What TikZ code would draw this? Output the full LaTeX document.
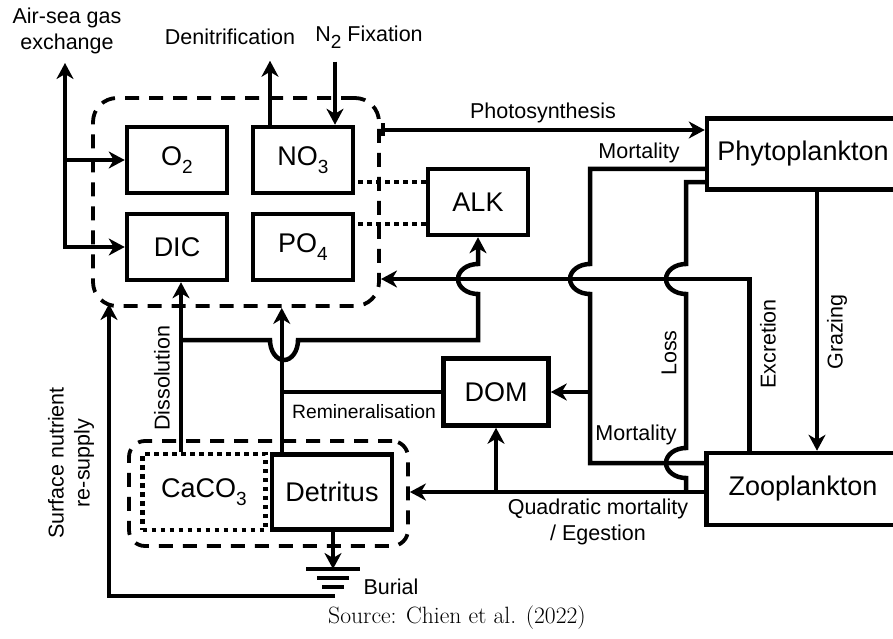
\documentclass[tikz,border=0pt]{standalone}
\usepackage{fontspec}
\newfontfamily\labelfont{Liberation Sans}
\usetikzlibrary{arrows.meta,positioning,calc}

\newcommand{\lowsub}[1]{\raisebox{-0.32em}{\fontsize{19}{19}\selectfont #1}}

\tikzset{
  pool/.style={draw, line width=4.5pt, inner sep=0pt, minimum width=100pt, minimum height=66pt,
    font=\labelfont\fontsize{27}{30}\selectfont},
  group/.style={draw, line width=3.8pt, dash pattern=on 14pt off 10pt, inner sep=0pt},
  link/.style={line width=4.5pt},
  flow/.style={link, ->},
  dotlink/.style={line width=4.5pt, dash pattern=on 4.5pt off 4.5pt},
  lbl/.style={font=\labelfont\fontsize{21.5}{26}\selectfont, inner sep=0pt, align=center},
}

\begin{document}
\begin{tikzpicture}[x=1pt,y=-1pt,>={Stealth[length=16pt,width=17pt,inset=5pt]}]
\useasboundingbox (0,0) rectangle (893,639);
\clip (0,0) rectangle (893,639);
% pools and groups
\node[group, rounded corners=24pt, minimum width=286pt, minimum height=208pt] (nutri) at (236,202) {};
\node[group, rounded corners=16pt, minimum width=279pt, minimum height=105pt] (sed) at (268.5,493.5) {};
\node[pool] (O2) at (177,160) {O\lowsub{2}};
\node[pool] (NO3) at (303,160) {NO\lowsub{3}};
\node[pool] (DIC) at (177,247) {DIC};
\node[pool] (PO4) at (303,247) {PO\lowsub{4}};
\node[pool] (ALK) at (478,202) {ALK};
\node[pool, minimum width=105pt, minimum height=67pt] (DOM) at (496,392) {DOM};
\node[pool, minimum width=192pt, minimum height=71pt] (Phyto) at (803,154) {Phytoplankton};
\node[pool, minimum width=193pt, minimum height=72pt] (Zoo) at (803,489) {Zooplankton};
\node[pool, dash pattern=on 4.5pt off 4.5pt, minimum width=123pt, minimum height=76pt] (CaCO3) at (204,492) {CaCO\lowsub{3}};
\node[pool, minimum width=120pt, minimum height=75pt] (Detritus) at (332,492) {Detritus};

% air-sea exchange, denitrification, N2 fixation
\coordinate (air) at (65,63);
\draw[link,<->] (air) |- (DIC.west);
\draw[flow] (air |- O2.west) -- (O2.west);
\draw[flow] ([xshift=-33pt]NO3.north) -- ++(0,-64);
\draw[flow] ([xshift=32pt]NO3.north) ++(0,-63) -- ([xshift=32pt]NO3.north);

% alkalinity
\draw[dotlink] ([yshift=20pt]ALK.west) -- ([yshift=20pt]ALK.west -| NO3.east);
\draw[dotlink] ([yshift=-22pt]ALK.west) -- ([yshift=-22pt]ALK.west -| PO4.east);

% photosynthesis and grazing
\draw[link,{Bar[width=13pt]}->] ([yshift=24pt]Phyto.west -| nutri.east) -- ([yshift=24pt]Phyto.west);
\draw[flow] ([xshift=14pt]Phyto.south) -- ([xshift=14pt]Zoo.north);

% mortality
\draw[link] ([yshift=-15pt]Phyto.west) -| (590,264)
  arc[start angle=90,end angle=270,x radius=20pt,y radius=15pt] |- ([yshift=26pt]Zoo.west);
\draw[flow] (DOM.east -| 590,0) -- (DOM.east);

% loss
\draw[link] ([yshift=-28pt]Phyto.west) -| (686,264)
  arc[start angle=90,end angle=270,x radius=20pt,y radius=15pt] -- (686,448)
  arc[start angle=90,end angle=270,x radius=20pt,y radius=15pt] -- (686,492);

% excretion
\coordinate (ret) at (381,279);
\draw[flow] ([xshift=45pt]Zoo.north west) |- (ret);

% quadratic mortality / egestion
\draw[flow] ([yshift=-3pt]Zoo.west) -- ([yshift=-3pt]Zoo.west -| sed.east);
\draw[flow] (DOM.south |- 0,492) -- (DOM.south);

% remineralisation
\coordinate (rem) at ([xshift=12pt]Detritus.north west);
\draw[flow] (rem) -- (rem |- nutri.south);
\draw[link] (DOM.west) -- (DOM.west -| rem);

% dissolution
\coordinate (diss) at (181,0);
\draw[flow] (diss |- CaCO3.north) -- (diss |- DIC.south);
\draw[flow] (diss |- 0,340) -- (270,340)
  arc[start angle=180,end angle=360,x radius=14pt,y radius=20pt] -| (ALK.south |- 0,294)
  arc[start angle=270,end angle=90,x radius=20pt,y radius=15pt] -- (ALK.south);

% burial and re-supply
\coordinate (gnd) at (333,569);
\draw[flow] (Detritus.south -| gnd) -- (gnd);
\draw[link] ($(gnd)+(-27,0)$) -- ($(gnd)+(27,0)$);
\draw[link] ($(gnd)+(-16,9)$) -- ($(gnd)+(16,9)$);
\draw[link] ($(gnd)+(-11,18)$) -- ($(gnd)+(11,18)$);
\coordinate (resup) at (109,304);
\draw[flow] ($(gnd)+(2,27)$) -| (resup);

% labels
\node[lbl] (airlbl) at (67,31) {Air-sea gas\\exchange};
\node[lbl] (denitlbl) at (230,37) {Denitrification};
\node[lbl] (nfixlbl) at (369,37) {N\lowsub{2} Fixation};
\node[lbl] (photolbl) at (543,113) {Photosynthesis};
\node[lbl] (mortlbl) at (639,153) {Mortality};
\node[lbl] (mortlbl2) at (636,435) {Mortality};
\node[lbl, rotate=90] (losslbl) at (669,353) {Loss};
\node[lbl, rotate=90] (exclbl) at (768,344) {Excretion};
\node[lbl, rotate=90] (grazlbl) at (837,332) {Grazing};
\node[lbl, font=\labelfont\fontsize{19.3}{24}\selectfont] (remlbl) at (364,412) {Remineralisation};
\node[lbl, rotate=90] (disslbl) at (162,378) {Dissolution};
\node[lbl, rotate=90] (supplbl) at (71,463) {Surface nutrient\\re-supply};
\node[lbl] (burlbl) at (391,587) {Burial};
\node[lbl] (quadlbl) at (598,522) {Quadratic mortality\\/ Egestion};
\node[font=\fontsize{23.6}{28}\selectfont, inner sep=0pt] (srclbl) at (457,618) {Source: Chien et al. (2022)};
\end{tikzpicture}
\end{document}
